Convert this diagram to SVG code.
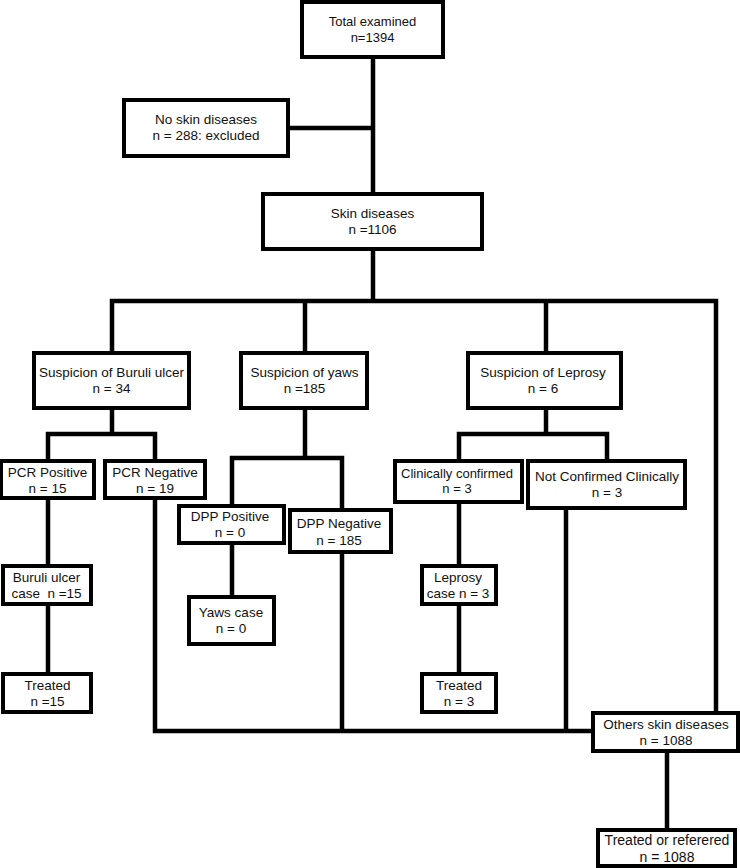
<svg xmlns="http://www.w3.org/2000/svg" width="740" height="868" viewBox="0 0 740 868">
<style>
.b{fill:#fff;stroke:#000;stroke-width:4}
.c{fill:none;stroke:#000;stroke-width:4.5;stroke-linejoin:miter}
text{font-family:"Liberation Sans",Arial,sans-serif;font-size:13.5px;fill:#111;text-anchor:middle}
</style>
<rect width="740" height="868" fill="#fff"/>
<g id="connectors">
<path class="c" d="M373 57V194"/>
<path class="c" d="M288 128H371"/>
<path class="c" d="M373 249V301"/>
<path class="c" d="M112 353V301H716V713"/>
<path class="c" d="M305 301V353"/>
<path class="c" d="M546 301V353"/>
<path class="c" d="M112 408V434"/>
<path class="c" d="M48 461V434H155V461"/>
<path class="c" d="M48 498V566"/>
<path class="c" d="M48 604V674"/>
<path class="c" d="M155 498V731H593"/>
<path class="c" d="M305 408V458"/>
<path class="c" d="M232 506V458H342V510"/>
<path class="c" d="M232 543V597"/>
<path class="c" d="M342 552V731"/>
<path class="c" d="M546 408V434"/>
<path class="c" d="M459 461V434H607V461"/>
<path class="c" d="M459 502V566"/>
<path class="c" d="M459 604V674"/>
<path class="c" d="M566 508V731"/>
<path class="c" d="M667 751V830"/>
</g>
<g id="total"><rect class="b" x="302" y="2" width="141" height="55"/><text x="372.5" y="26" style="font-size:13px">Total examined</text><text x="372.5" y="42" style="font-size:13px">n=1394</text></g>
<g id="noskin"><rect class="b" x="124" y="100" width="164" height="56"/><text x="206" y="124">No skin diseases</text><text x="206" y="140">n = 288: excluded</text></g>
<g id="skin"><rect class="b" x="263" y="194" width="219" height="55"/><text x="372.5" y="218">Skin diseases</text><text x="372.5" y="234">n =1106</text></g>
<g id="buruli"><rect class="b" x="34" y="353" width="155" height="55"/><text x="111.5" y="377">Suspicion of Buruli ulcer</text><text x="111.5" y="393">n = 34</text></g>
<g id="yaws"><rect class="b" x="241" y="353" width="126" height="55"/><text x="304.5" y="377">Suspicion of yaws</text><text x="304.5" y="393">n =185</text></g>
<g id="leprosy"><rect class="b" x="468" y="353" width="153" height="55"/><text x="543" y="377">Suspicion of Leprosy</text><text x="543" y="393">n = 6</text></g>
<g id="pcrpos"><rect class="b" x="1" y="461" width="93" height="37"/><text x="47.5" y="477">PCR Positive</text><text x="47.5" y="493">n = 15</text></g>
<g id="pcrneg"><rect class="b" x="105" y="461" width="100" height="37"/><text x="155" y="477">PCR Negative</text><text x="155" y="493">n = 19</text></g>
<g id="dpppos"><rect class="b" x="179" y="506" width="105" height="37"/><text x="230" y="521">DPP Positive</text><text x="230" y="537">n = 0</text></g>
<g id="dppneg"><rect class="b" x="290" y="510" width="101" height="42"/><text x="339" y="528">DPP Negative</text><text x="339" y="545">n = 185</text></g>
<g id="clinconf"><rect class="b" x="395" y="461" width="127" height="41"/><text x="457" y="478" style="font-size:13px">Clinically confirmed</text><text x="457" y="493" style="font-size:13px">n = 3</text></g>
<g id="notconf"><rect class="b" x="528" y="461" width="157" height="47"/><text x="607" y="481">Not Confirmed Clinically</text><text x="607" y="497">n = 3</text></g>
<g id="bucase"><rect class="b" x="3" y="566" width="88" height="38"/><text x="46.5" y="582">Buruli ulcer</text><text x="46.5" y="598" style="white-space:pre">case  n =15</text></g>
<g id="yawscase"><rect class="b" x="189" y="597" width="85" height="47"/><text x="231" y="617">Yaws case</text><text x="231" y="633">n = 0</text></g>
<g id="lepcase"><rect class="b" x="422" y="566" width="74" height="38"/><text x="458" y="582">Leprosy</text><text x="458" y="598">case n = 3</text></g>
<g id="treated15"><rect class="b" x="3" y="674" width="88" height="38"/><text x="47.5" y="690">Treated</text><text x="47.5" y="706">n =15</text></g>
<g id="treated3"><rect class="b" x="422" y="674" width="74" height="38"/><text x="459" y="690">Treated</text><text x="459" y="706">n = 3</text></g>
<g id="others"><rect class="b" x="593" y="713" width="145" height="38"/><text x="666" y="729">Others skin diseases</text><text x="666" y="745">n = 1088</text></g>
<g id="treatref"><rect class="b" x="598" y="830" width="137" height="36"/><text x="667" y="845" style="font-size:14px">Treated or referered</text><text x="667" y="862" style="font-size:14px">n = 1088</text></g>
</svg>
